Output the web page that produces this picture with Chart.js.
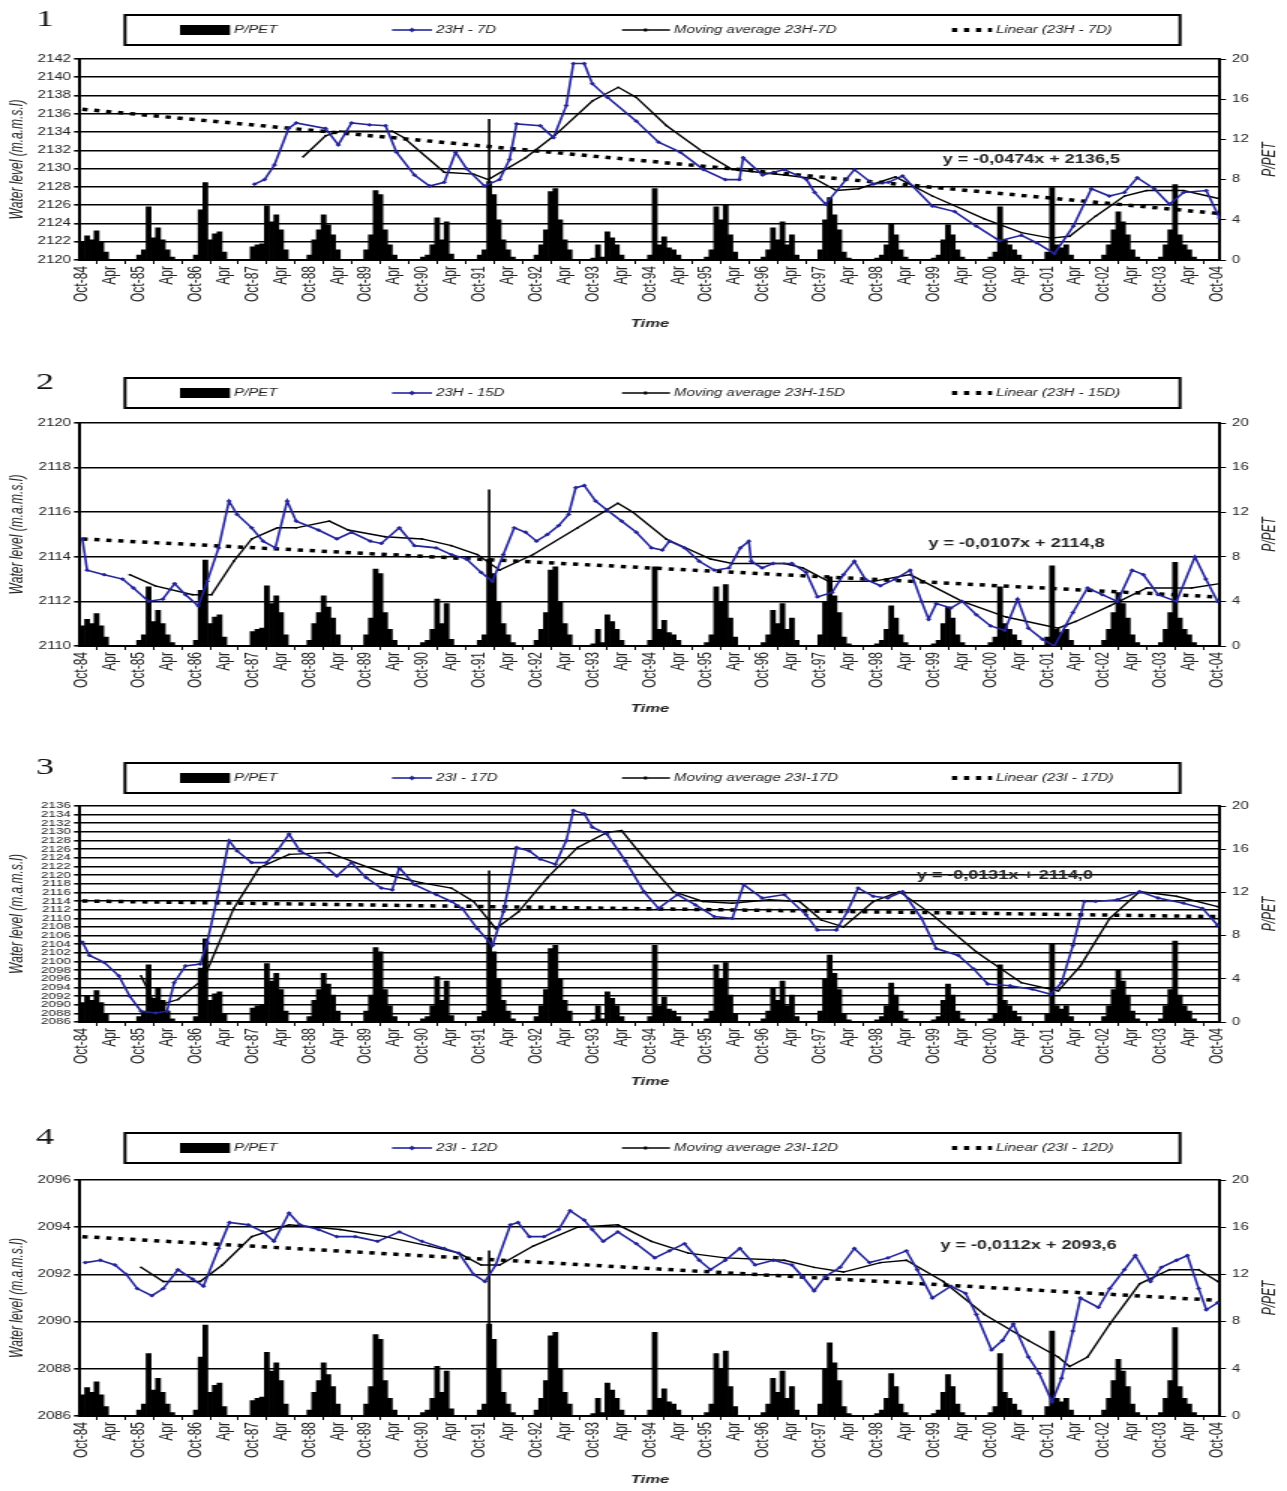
<!DOCTYPE html>
<html>
<head>
<meta charset="utf-8">
<title>Water level and P/PET</title>
<script src="https://cdn.jsdelivr.net/npm/chart.js@4.4.1/dist/chart.umd.min.js"></script>
<style>
    html, body { margin: 0; padding: 0; background: #fff; }
    #page { position: relative; width: 1287px; height: 1491px; overflow: hidden; }
    #page canvas { position: absolute; left: 0; }
</style>
</head>
<body>
<div id="page">
    <canvas id="panel-1"></canvas>
    <canvas id="panel-2"></canvas>
    <canvas id="panel-3"></canvas>
    <canvas id="panel-4"></canvas>
</div>
<script>
"use strict";

//=> Tick labels (one every 6 months, Oct-84 .. Oct-04)
var monthTicks = ['Oct-84', 'Apr', 'Oct-85', 'Apr', 'Oct-86', 'Apr', 'Oct-87', 'Apr', 'Oct-88', 'Apr',
    'Oct-89', 'Apr', 'Oct-90', 'Apr', 'Oct-91', 'Apr', 'Oct-92', 'Apr', 'Oct-93', 'Apr',
    'Oct-94', 'Apr', 'Oct-95', 'Apr', 'Oct-96', 'Apr', 'Oct-97', 'Apr', 'Oct-98', 'Apr',
    'Oct-99', 'Apr', 'Oct-00', 'Apr', 'Oct-01', 'Apr', 'Oct-02', 'Apr', 'Oct-03', 'Apr', 'Oct-04'];

//=> P/PET, monthly, one row per hydrological year (Oct .. Sep)
var pPetYears = [
    [1.8, 2.4, 2.0, 2.9, 1.8, 0.8, 0, 0, 0, 0, 0, 0],
    [0.5, 1.0, 5.3, 2.2, 3.2, 2.0, 1.0, 0.3, 0, 0, 0, 0],
    [0.5, 5.0, 7.7, 2.0, 2.6, 2.8, 0.8, 0, 0, 0, 0, 0],
    [1.3, 1.5, 1.6, 5.4, 3.8, 4.5, 3.0, 1.0, 0, 0, 0, 0],
    [0.5, 2.0, 3.0, 4.5, 3.5, 2.5, 1.0, 0, 0, 0, 0, 0],
    [1.0, 2.5, 6.9, 6.5, 3.0, 1.5, 0.5, 0, 0, 0, 0, 0],
    [0.3, 0.5, 1.5, 4.2, 2.0, 3.8, 0.6, 0, 0, 0, 0, 0],
    [0.5, 1.0, 7.8, 6.5, 4.0, 2.0, 1.0, 0.3, 0, 0, 0, 0],
    [0.5, 1.5, 3.0, 6.8, 7.1, 4.0, 2.0, 1.0, 0, 0, 0, 0],
    [0.2, 1.5, 0.3, 2.8, 2.2, 1.5, 0.5, 0, 0, 0, 0, 0],
    [0.5, 7.1, 1.5, 2.3, 1.2, 1.0, 0.5, 0, 0, 0, 0, 0],
    [0.3, 1.0, 5.3, 4.0, 5.5, 2.5, 0.8, 0, 0, 0, 0, 0],
    [0.3, 1.0, 3.2, 2.0, 3.8, 1.5, 2.5, 0.5, 0, 0, 0, 0],
    [1.0, 4.0, 6.2, 4.5, 3.0, 0.8, 0.2, 0, 0, 0, 0, 0],
    [0.2, 0.5, 1.5, 3.6, 2.5, 1.0, 0.3, 0, 0, 0, 0, 0],
    [0.2, 0.5, 2.0, 3.5, 2.5, 1.0, 0.3, 0, 0, 0, 0, 0],
    [0.3, 0.8, 5.3, 2.0, 1.5, 1.0, 0.5, 0, 0, 0, 0, 0],
    [0.8, 7.2, 1.5, 1.2, 1.5, 0.5, 0, 0, 0, 0, 0, 0],
    [0.5, 1.5, 3.0, 4.8, 3.8, 2.5, 1.0, 0.3, 0, 0, 0, 0],
    [0.3, 1.5, 3.0, 7.5, 2.5, 1.5, 1.0, 0.3, 0, 0, 0, 0],
    [0]
];
// thin single spike drawn over Oct-91 in every panel [month, P/PET]
var spikeBar = [[86, 14]];

//=> Panel 1 : 23H - 7D   ([month index from Oct-84, m.a.m.s.l])
var level1 = [[36.4, 2128.3], [38.5, 2128.8], [40.6, 2130.4], [43.6, 2134.4], [45.2, 2135.0], [51.4, 2134.4],
    [54.1, 2132.6], [56.9, 2135.0], [60.7, 2134.8], [64.1, 2134.7], [66.4, 2131.8], [70.2, 2129.3], [73.4, 2128.1],
    [76.5, 2128.5], [78.9, 2131.8], [81.2, 2130.0], [85, 2128.1], [88.2, 2128.8], [90.3, 2131.0], [91.8, 2134.9],
    [96.8, 2134.7], [99.6, 2133.4], [102.3, 2136.9], [103.8, 2141.5], [106.1, 2141.5], [107.8, 2139.3], [111, 2137.8],
    [117.1, 2135.2], [121.8, 2132.9], [126.4, 2131.8], [131.3, 2129.9], [135.9, 2128.8], [138.9, 2128.8], [139.7, 2131.2],
    [143.8, 2129.3], [148.4, 2129.9], [153.1, 2128.8], [154.8, 2127.4], [157.1, 2126.1], [163.2, 2129.9], [167.2, 2128.3],
    [170.4, 2128.5], [173.4, 2129.2], [179.7, 2125.9], [184.4, 2125.3], [189, 2123.7], [193.9, 2122.1], [198.5, 2122.7],
    [201.7, 2121.9], [205.5, 2120.7], [209.5, 2123.7], [213.3, 2127.8], [217.1, 2127.0], [220.3, 2127.4], [223, 2129.0],
    [226.6, 2127.8], [229.8, 2126.1], [232.8, 2127.4], [237.6, 2127.6], [240.4, 2124.6]];
var avg1 = [[46.7, 2131.3], [51.4, 2133.6], [54.5, 2134.1], [65.5, 2134.1], [67.9, 2133.4], [76.5, 2129.6],
    [82.7, 2129.4], [85.8, 2128.8], [93.7, 2131.2], [100, 2133.7], [107.8, 2137.4], [113.3, 2138.9], [117.1, 2137.8],
    [123.5, 2134.7], [131.3, 2131.8], [137.4, 2129.9], [148.4, 2129.3], [154.8, 2128.9], [159.4, 2127.6], [164.1, 2127.8],
    [171.9, 2129.1], [179.7, 2127.0], [190.7, 2124.5], [198.5, 2123.0], [204.7, 2122.4], [208.7, 2122.6], [214.2, 2124.8],
    [220.3, 2127.0], [225, 2127.6], [232.8, 2127.6], [240.4, 2126.7]];
var trend1 = [[0, 2136.5], [240, 2125.1]];

//=> Panel 2 : 23H - 15D
var level2 = [[0, 2114.8], [1, 2113.4], [4.6, 2113.2], [8.5, 2113.0], [10.8, 2112.6], [14, 2112.0], [17, 2112.1],
    [19.5, 2112.8], [21.8, 2112.3], [24.5, 2111.8], [26.4, 2112.9], [28.8, 2114.4], [31, 2116.5], [32.7, 2115.9],
    [35.8, 2115.3], [38.2, 2114.7], [40.8, 2114.4], [43.3, 2116.5], [45.2, 2115.6], [49.9, 2115.2], [53.8, 2114.8],
    [56.9, 2115.1], [60.9, 2114.7], [63.2, 2114.6], [67, 2115.3], [70.2, 2114.5], [74.8, 2114.4], [78, 2114.1],
    [81.2, 2113.9], [84.3, 2113.3], [86.7, 2112.9], [89, 2114.1], [91.3, 2115.3], [93.7, 2115.1], [96, 2114.7],
    [98.3, 2115.0], [100.7, 2115.4], [102.8, 2115.9], [104.3, 2117.1], [106.1, 2117.2], [108.5, 2116.5], [110.9, 2116.1],
    [114, 2115.6], [117.1, 2115.1], [120.3, 2114.4], [122.6, 2114.3], [124.1, 2114.7], [127.3, 2114.4], [130.4, 2113.8],
    [133.6, 2113.4], [136.7, 2113.5], [139.1, 2114.4], [140.9, 2114.7], [141.4, 2113.8], [143.7, 2113.5], [146, 2113.7],
    [150, 2113.7], [153, 2113.3], [155.4, 2112.2], [158.5, 2112.4], [160.9, 2113.2], [163.2, 2113.8], [165.5, 2113.0],
    [168.7, 2112.7], [171.8, 2113.0], [175, 2113.4], [177.4, 2112.0], [178.9, 2111.2], [180.5, 2111.9], [183.6, 2111.7],
    [186, 2112.0], [189, 2111.4], [192, 2110.9], [195, 2110.7], [197.7, 2112.1], [200, 2110.8], [203, 2110.3],
    [205.5, 2110.0], [207.8, 2110.9], [209.4, 2111.5], [212.5, 2112.6], [215.6, 2112.3], [218.8, 2112.0], [221.9, 2113.4],
    [224.3, 2113.2], [227.4, 2112.3], [231.3, 2112.0], [235.2, 2114.0], [237.5, 2113.0], [240, 2112.0]];
var avg2 = [[10, 2113.2], [15.4, 2112.7], [23.3, 2112.3], [27.3, 2112.3], [32, 2113.8], [35.8, 2114.8], [41.2, 2115.3],
    [45.2, 2115.3], [52.2, 2115.6], [56.2, 2115.2], [64, 2114.9], [71.8, 2114.8], [78, 2114.5], [83.5, 2114.1],
    [88.2, 2113.4], [95.3, 2114.1], [104.7, 2115.3], [113.2, 2116.4], [116.4, 2116.0], [123.4, 2114.8], [132.8, 2113.9],
    [137.4, 2113.7], [148.4, 2113.7], [152.3, 2113.5], [157.7, 2112.9], [167.2, 2112.9], [175, 2113.2], [186, 2112.0],
    [195.3, 2111.3], [206.3, 2110.8], [210, 2111.1], [217.2, 2111.8], [225, 2112.6], [234.5, 2112.6], [240.4, 2112.8]];
var trend2 = [[0, 2114.8], [240, 2112.2]];

//=> Panel 3 : 23I - 17D
var level3 = [[0, 2104.5], [1.5, 2101.4], [4.6, 2099.8], [7.7, 2096.7], [10, 2092.0], [12.4, 2088.5], [15.5, 2088.1],
    [17.9, 2088.5], [19.4, 2095.1], [21.8, 2099.0], [24.9, 2099.4], [26.4, 2104.5], [28.8, 2116.2], [31, 2128.0],
    [32.7, 2125.6], [35.8, 2122.9], [38.9, 2122.9], [41.2, 2125.6], [43.7, 2129.5], [46, 2125.6], [50, 2123.3],
    [53.8, 2119.8], [56.9, 2122.9], [60, 2119.4], [63.2, 2117.0], [65.5, 2116.6], [67, 2121.7], [70.2, 2117.8],
    [74.8, 2115.5], [78, 2113.9], [80.3, 2112.3], [83.5, 2107.6], [86.7, 2103.7], [89, 2111.5], [91.8, 2126.4],
    [94.5, 2125.6], [96.8, 2123.7], [100, 2122.5], [102.3, 2128.0], [103.8, 2135.0], [106.1, 2134.2], [107.8, 2131.1],
    [110.9, 2129.5], [114.8, 2123.3], [118.7, 2116.2], [121.8, 2112.3], [125.8, 2115.5], [129.6, 2113.1], [133.6, 2110.4],
    [137.4, 2110.0], [139.8, 2117.8], [143.7, 2114.7], [148.4, 2115.5], [153, 2110.8], [155.4, 2107.3], [159.4, 2107.3],
    [161.7, 2111.5], [164, 2117.0], [167.2, 2115.1], [170.3, 2114.7], [173.4, 2116.2], [177.4, 2110.0], [180.5, 2103.0],
    [185.2, 2101.4], [188.4, 2098.3], [191.4, 2094.8], [196.1, 2094.4], [200.8, 2093.6], [204.7, 2092.4], [207, 2095.1],
    [209.4, 2103.7], [211.8, 2113.9], [214.2, 2113.9], [218.8, 2114.3], [223.5, 2116.2], [227.4, 2114.7], [232.8, 2113.5],
    [236.8, 2112.3], [240, 2108.4]];
var avg3 = [[12.4, 2096.7], [15.5, 2089.7], [20.2, 2091.2], [25.6, 2095.9], [32, 2112.3], [37.4, 2121.7], [43.7, 2124.8],
    [52.2, 2125.2], [57.7, 2122.9], [65.5, 2119.8], [71.8, 2118.2], [78, 2117.0], [82.7, 2113.9], [87.4, 2107.6],
    [92.2, 2111.5], [98.3, 2119.4], [104.7, 2126.4], [110.9, 2129.9], [114, 2130.3], [118.7, 2124.0], [124.9, 2116.2],
    [131.2, 2113.9], [137.4, 2113.5], [145.2, 2114.3], [151.6, 2113.9], [156.2, 2109.6], [160.9, 2108.0], [167.2, 2113.9],
    [172.7, 2116.2], [179.7, 2110.8], [189, 2102.2], [198.5, 2095.1], [206.3, 2093.2], [211, 2099.0], [217.2, 2110.0],
    [223.5, 2116.2], [231.3, 2115.1], [240, 2112.7]];
var trend3 = [[0, 2114.0], [240, 2110.4]];

//=> Panel 4 : 23I - 12D
var level4 = [[0.6, 2092.5], [3.8, 2092.6], [6.9, 2092.4], [9.3, 2092.0], [11.6, 2091.4], [14.7, 2091.1], [17.1, 2091.4],
    [20.2, 2092.2], [23.3, 2091.8], [25.6, 2091.5], [28.8, 2093.1], [31.1, 2094.2], [35.1, 2094.1], [38.2, 2093.8],
    [40.5, 2093.4], [43.7, 2094.6], [46, 2094.1], [49.9, 2093.9], [53.8, 2093.6], [57.7, 2093.6], [62.4, 2093.4],
    [67, 2093.8], [71.8, 2093.4], [76.5, 2093.1], [79.6, 2092.9], [82.7, 2092.0], [85.1, 2091.7], [87.4, 2092.4],
    [90.5, 2094.1], [92.1, 2094.2], [94.5, 2093.6], [97.6, 2093.6], [100.7, 2093.9], [103.1, 2094.7], [106.1, 2094.3],
    [107.8, 2093.9], [110.1, 2093.4], [113.2, 2093.8], [117.1, 2093.3], [121, 2092.7], [124.1, 2093.0], [127.3, 2093.3],
    [130.4, 2092.6], [132.8, 2092.2], [135.9, 2092.6], [139, 2093.1], [142.2, 2092.4], [146.1, 2092.6], [150, 2092.4],
    [152.3, 2091.9], [154.7, 2091.3], [157, 2091.9], [160.2, 2092.3], [163.2, 2093.1], [166.4, 2092.5], [170.3, 2092.7],
    [174.2, 2093.0], [176.5, 2092.2], [179.7, 2091.0], [183.6, 2091.5], [186.7, 2091.2], [189, 2090.3], [192.2, 2088.8],
    [194.5, 2089.2], [196.8, 2089.9], [200, 2088.5], [202.3, 2087.8], [205, 2086.6], [207, 2087.6], [209.4, 2089.6],
    [211, 2091.0], [214.8, 2090.6], [217.2, 2091.4], [220.3, 2092.2], [222.6, 2092.8], [225.8, 2091.7], [228.1, 2092.3],
    [231.3, 2092.6], [233.6, 2092.8], [236, 2091.4], [237.6, 2090.5], [240, 2090.8]];
var avg4 = [[12.4, 2092.3], [17.1, 2091.7], [24.9, 2091.7], [29.6, 2092.4], [35.8, 2093.6], [43.7, 2094.1], [54.5, 2093.9],
    [64, 2093.6], [73.4, 2093.2], [79.6, 2092.9], [84.3, 2092.4], [88.2, 2092.4], [95.3, 2093.2], [104.7, 2094.0],
    [113.2, 2094.1], [120.3, 2093.4], [128.1, 2092.9], [135.9, 2092.7], [148.4, 2092.6], [154.7, 2092.3], [160.9, 2092.1],
    [168.7, 2092.5], [174.2, 2092.6], [182, 2091.7], [190.7, 2090.3], [200, 2089.2], [206.3, 2088.5], [208.7, 2088.1],
    [212.5, 2088.5], [217.2, 2089.9], [223.5, 2091.6], [229.8, 2092.2], [236, 2092.2], [240, 2091.7]];
var trend4 = [[0, 2093.6], [240, 2090.9]];

//=> Look
var SX = 1.5;               // canvas is drawn narrow and shown stretched, like the scanned figure
var CW = 858;               // canvas bitmap width (1287 / SX)
var FONT = '"Liberation Sans", Arial, sans-serif';
var BLUE = '#24249a';

function px(v) { return v / SX; }
function toXY(rows) { return rows.map(function (r) { return { x: r[0], y: r[1] }; }); }

var pPetXY = [];
pPetYears.forEach(function (row, yr) {
    row.forEach(function (v, m) { pPetXY.push({ x: yr * 12 + m, y: v }); });
});

var panels = [
    { id: 'panel-1', num: '1', top: 0, bottom: 335, plotTop: 59, plotBottom: 260, legendY: 15, yMin: 2120, yMax: 2142, tickSize: 10,
      names: ['P/PET', '23H - 7D', 'Moving average 23H-7D', 'Linear (23H - 7D)'],
      level: level1, avg: avg1, trend: trend1, eq: 'y = -0,0474x + 2136,5', eqAt: [200.6, 2131.0] },
    { id: 'panel-2', num: '2', top: 345, bottom: 720, plotTop: 423, plotBottom: 646, legendY: 378, yMin: 2110, yMax: 2120, tickSize: 10,
      names: ['P/PET', '23H - 15D', 'Moving average 23H-15D', 'Linear (23H - 15D)'],
      level: level2, avg: avg2, trend: trend2, eq: 'y = -0,0107x + 2114,8', eqAt: [197.5, 2114.6] },
    { id: 'panel-3', num: '3', top: 720, bottom: 1093, plotTop: 806, plotBottom: 1022, legendY: 763, yMin: 2086, yMax: 2136, tickSize: 9,
      names: ['P/PET', '23I - 17D', 'Moving average 23I-17D', 'Linear (23I - 17D)'],
      level: level3, avg: avg3, trend: trend3, eq: 'y = -0,0131x + 2114,0', eqAt: [195, 2119.8] },
    { id: 'panel-4', num: '4', top: 1093, bottom: 1491, plotTop: 1180, plotBottom: 1416, legendY: 1133, yMin: 2086, yMax: 2096, tickSize: 10,
      names: ['P/PET', '23I - 12D', 'Moving average 23I-12D', 'Linear (23I - 12D)'],
      level: level4, avg: avg4, trend: trend4, eq: 'y = -0,0112x + 2093,6', eqAt: [200, 2093.2] }
];

//=> Panel number, boxed legend, axis titles, trend equation
var decor = {
    id: 'decor',
    afterDatasetsDraw: function (chart, args, o) {
        var ctx = chart.ctx;
        ctx.save();
        ctx.font = 'bold 12px ' + FONT;
        ctx.fillStyle = '#222';
        ctx.textAlign = 'center';
        ctx.textBaseline = 'middle';
        ctx.fillText(o.eq, chart.scales.x.getPixelForValue(o.eqAt[0]), chart.scales.y.getPixelForValue(o.eqAt[1]));
        ctx.restore();
    },
    afterDraw: function (chart, args, o) {
        var ctx = chart.ctx, a = chart.chartArea;
        var ly = o.legendY, cy = ly + 15, mid = (a.top + a.bottom) / 2;
        ctx.save();

        ctx.fillStyle = '#111';
        ctx.font = '24px "Liberation Serif", serif';
        ctx.textBaseline = 'middle';
        ctx.textAlign = 'left';
        ctx.fillText(o.num, px(36), ly + 5);

        ctx.lineWidth = 2;
        ctx.strokeStyle = '#000';
        ctx.strokeRect(px(125), ly, px(1055), 30);

        // bar swatch
        ctx.fillStyle = '#000';
        ctx.fillRect(px(180), cy - 5, px(50), 10);
        // blue line with marker
        ctx.strokeStyle = BLUE;
        ctx.lineWidth = 1.6;
        ctx.beginPath(); ctx.moveTo(px(392), cy); ctx.lineTo(px(432), cy); ctx.stroke();
        ctx.fillStyle = BLUE;
        ctx.beginPath(); ctx.moveTo(px(412) - 2, cy); ctx.lineTo(px(412), cy - 2.5); ctx.lineTo(px(412) + 2, cy); ctx.lineTo(px(412), cy + 2.5); ctx.fill();
        // moving average
        ctx.strokeStyle = '#000';
        ctx.lineWidth = 1.4;
        ctx.beginPath(); ctx.moveTo(px(622), cy); ctx.lineTo(px(670), cy); ctx.stroke();
        ctx.fillStyle = '#000';
        ctx.fillRect(px(644), cy - 1.5, 2, 3);
        // linear trend
        ctx.lineWidth = 4;
        ctx.setLineDash([3.5, 4.5]);
        ctx.beginPath(); ctx.moveTo(px(952), cy); ctx.lineTo(px(992), cy); ctx.stroke();
        ctx.setLineDash([]);

        ctx.fillStyle = '#222';
        ctx.font = 'italic 10px ' + FONT;
        ctx.fillText(o.names[0], px(234), cy);
        ctx.fillText(o.names[1], px(436), cy);
        ctx.fillText(o.names[2], px(674), cy);
        ctx.fillText(o.names[3], px(996), cy);

        // rotated axis titles
        ctx.font = 'italic 12px ' + FONT;
        ctx.textAlign = 'center';
        ctx.save();
        ctx.translate(px(18), mid);
        ctx.rotate(-Math.PI / 2);
        ctx.fillText('Water level (m.a.m.s.l)', 0, 0);
        ctx.restore();
        ctx.save();
        ctx.translate(px(1270), mid);
        ctx.rotate(-Math.PI / 2);
        ctx.fillText('P/PET', 0, 0);
        ctx.restore();

        ctx.restore();
    }
};

//=> Build one chart per panel
panels.forEach(function (p) {
    var canvas = document.getElementById(p.id);
    var h = p.bottom - p.top;
    canvas.width = CW;
    canvas.height = h;
    canvas.style.width = '1287px';
    canvas.style.height = h + 'px';
    canvas.style.top = p.top + 'px';

    new Chart(canvas.getContext('2d'), {
        type: 'bar',
        data: {
            datasets: [{
                type: 'line',
                label: p.names[1],
                data: toXY(p.level),
                yAxisID: 'y',
                borderColor: BLUE,
                borderWidth: 1.6,
                pointRadius: 1.9,
                pointStyle: 'rectRot',
                pointBackgroundColor: BLUE,
                pointBorderWidth: 0,
                order: 0
            }, {
                type: 'line',
                label: p.names[2],
                data: toXY(p.avg),
                yAxisID: 'y',
                borderColor: '#000',
                borderWidth: 1.4,
                pointRadius: 0.9,
                pointBackgroundColor: '#000',
                pointBorderWidth: 0,
                order: 1
            }, {
                type: 'line',
                label: p.names[3],
                data: toXY(p.trend),
                yAxisID: 'y',
                borderColor: '#000',
                borderWidth: 3.5,
                borderDash: [3.5, 4.5],
                pointRadius: 0,
                order: 2
            }, {
                type: 'bar',
                label: p.names[0],
                data: pPetXY,
                yAxisID: 'y2',
                backgroundColor: '#000',
                barPercentage: 1,
                categoryPercentage: 1,
                grouped: false,
                order: 4
            }, {
                type: 'bar',
                label: 'spike',
                data: toXY(spikeBar),
                yAxisID: 'y2',
                backgroundColor: '#000',
                barThickness: 1,
                grouped: false,
                order: 3
            }]
        },
        options: {
            responsive: false,
            animation: false,
            devicePixelRatio: 1,
            events: [],
            layout: { padding: { top: p.plotTop - p.top, bottom: 0, left: 0, right: 0 } },
            plugins: {
                legend: { display: false },
                tooltip: { enabled: false },
                decor: { num: p.num, legendY: p.legendY - p.top, names: p.names, eq: p.eq, eqAt: p.eqAt }
            },
            scales: {
                x: {
                    type: 'linear',
                    min: -0.5,
                    max: 240.5,
                    offset: false,
                    afterBuildTicks: function (s) {
                        s.ticks = monthTicks.map(function (l, i) { return { value: i * 6 }; });
                    },
                    afterFit: function (s) { s.height = p.bottom - p.plotBottom; },
                    ticks: {
                        autoSkip: false, minRotation: 90, maxRotation: 90, padding: 2,
                        font: { size: 12, family: FONT }, color: '#222',
                        callback: function (v) { return monthTicks[Math.round(v / 6)]; }
                    },
                    grid: { drawOnChartArea: false, color: '#000', tickLength: 4 },
                    border: { color: '#000', width: 2 },
                    title: {
                        display: true, text: 'Time', color: '#222',
                        font: { size: 11, weight: 'bold', style: 'italic', family: FONT },
                        padding: { top: 0, bottom: 4 }
                    }
                },
                y: {
                    position: 'left',
                    min: p.yMin,
                    max: p.yMax,
                    afterFit: function (s) { s.width = px(80); },
                    ticks: {
                        stepSize: 2, autoSkip: false, padding: 2, color: '#222',
                        font: { size: p.tickSize, family: FONT },
                        callback: function (v) { return String(v); }
                    },
                    grid: { color: '#000', lineWidth: 1.6, tickLength: 4 },
                    border: { color: '#000', width: 2 }
                },
                y2: {
                    position: 'right',
                    min: 0,
                    max: 20,
                    afterFit: function (s) { s.width = CW - px(1220); },
                    ticks: {
                        stepSize: 4, padding: 4, color: '#222',
                        font: { size: 10, family: FONT }
                    },
                    grid: { drawOnChartArea: false, color: '#000', tickLength: 4 },
                    border: { color: '#000', width: 2 }
                }
            }
        },
        plugins: [decor]
    });
});
</script>
</body>
</html>
